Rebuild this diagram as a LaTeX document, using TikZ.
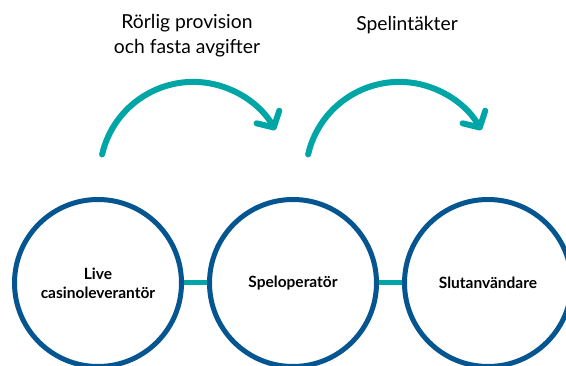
\documentclass[tikz,border=0pt]{standalone}
\usepackage{fontspec}
\setmainfont{Lato}
\usetikzlibrary{arrows.meta}
\definecolor{tealc}{RGB}{0,165,165}
\definecolor{bluec}{RGB}{5,85,145}
\tikzset{
  party/.style={circle, draw=bluec, line width=5pt, minimum size=167pt, inner sep=0pt,
    align=center, font=\bfseries\fontsize{15.5}{19}\selectfont},
  link/.style={draw=tealc, line width=5pt},
  flow/.style={draw=tealc, line width=6pt, line cap=round,
    -{Straight Barb[length=12pt,width=26pt,line cap=round,line join=round]}},
  caption/.style={align=center, font=\fontsize{19.3}{25}\selectfont, inner sep=0pt}
}
\begin{document}
\begin{tikzpicture}[x=1pt,y=-1pt]
\useasboundingbox (0,0) rectangle (566,366);
\node[party] (c1) at (98,283) {Live\\casinoleverantör};
\node[party] (c2) at (293,283) {Speloperatör};
\node[party] (c3) at (488,283) {Slutanvändare};
\draw[link] (c1) -- (c2);
\draw[link] (c2) -- (c3);
\coordinate (a1) at (193.3,175.5);
\coordinate (a2) at (399.3,175.5);
\draw[flow] ([shift={(167:93.6pt)}]a1) arc[start angle=167, end angle=29, radius=93.6pt];
\draw[flow] ([shift={(167:93.6pt)}]a2) arc[start angle=167, end angle=29, radius=93.6pt];
\node[caption] (t1) at (187,36) {Rörlig provision\\och fasta avgifter};
\node[caption] (t2) at (407,25) {Spelintäkter};
\end{tikzpicture}
\end{document}
